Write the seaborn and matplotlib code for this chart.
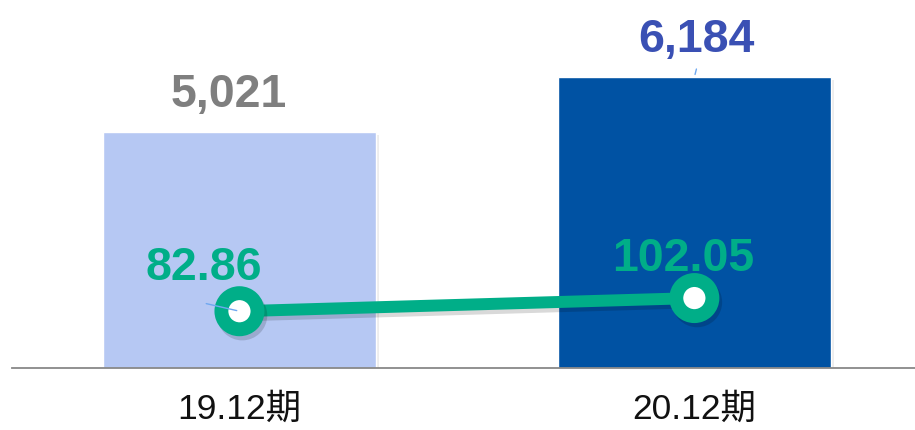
import matplotlib
matplotlib.use("Agg")
import matplotlib.pyplot as plt
import matplotlib.patheffects as pe
import seaborn as sns
import pandas as pd

categories = ["19.12期", "20.12期"]
bar_values = [5021, 6184]
line_values = [82.86, 102.05]
bar_labels = ["5,021", "6,184"]
line_labels = ["82.86", "102.05"]

bar_colors = ["#B6C8F3", "#0052A3"]
bar_label_colors = ["#7F7F7F", "#3A50B4"]
green = "#00AE88"

sns.set_theme(style="white")
plt.rcParams["font.family"] = ["Liberation Sans", "Noto Sans CJK JP", "DejaVu Sans"]

df = pd.DataFrame({"cat": categories, "val": bar_values, "rate": line_values})

fig = plt.figure(figsize=(9.15, 4.3), dpi=100)
ax = fig.add_axes([12 / 915, 62 / 430, 903 / 915, 368 / 430])

sns.barplot(data=df, x="cat", y="val", hue="cat", palette=bar_colors,
            width=0.6, ax=ax, legend=False, saturation=1)
for p in ax.patches:
    p.set_path_effects([pe.SimplePatchShadow(offset=(2, -2), shadow_rgbFace="#000000", alpha=0.07),
                        pe.Normal()])
ax.set_xlim(-0.5, 1.485)
ax.set_ylim(0, 7824)
ax.set_xlabel("")
ax.set_ylabel("")
ax.set_yticks([])
for s in ["top", "right", "left"]:
    ax.spines[s].set_visible(False)
ax.spines["bottom"].set_color("#888888")
ax.spines["bottom"].set_linewidth(1.3)
ax.tick_params(axis="x", length=0, pad=18, labelsize=25.5, colors="#111111")

for i, (v, lab, c) in enumerate(zip(bar_values, bar_labels, bar_label_colors)):
    dx = -8 if i == 0 else 1.5
    ax.annotate(lab, xy=(i, v), xytext=(dx, 26.5), textcoords="offset points",
                ha="center", va="center", fontsize=33.5, fontweight="bold", color=c)

# leader line for 6,184
ax.annotate("", xy=(1, bar_values[1]), xytext=(1.006, bar_values[1] + 230),
            arrowprops=dict(arrowstyle="-", color="#6FA8F0", lw=1.0))

ax2 = ax.twinx()
ax2.set_ylim(0, 537)
sns.lineplot(x=[0, 1], y=line_values, ax=ax2, color=green, lw=8.6,
             marker="o", markersize=26, markeredgewidth=10,
             markerfacecolor="white", markeredgecolor=green, zorder=5)
for ln in ax2.lines:
    ln.set_path_effects([pe.SimpleLineShadow(offset=(2, -3), shadow_color="#000000", alpha=0.15),
                         pe.Normal()])
ax2.set_yticks([])
ax2.set_ylabel("")
for s in ["top", "right", "left", "bottom"]:
    ax2.spines[s].set_visible(False)

offsets = [(-26, 31), (-8, 28)]
for i, (v, lab) in enumerate(zip(line_values, line_labels)):
    ox, oy = offsets[i]
    ax2.annotate(lab, xy=(i, v), xytext=(ox, oy), textcoords="offset points",
                 ha="center", va="center", fontsize=33.5, fontweight="bold", color=green,
                 zorder=6)

ax2.annotate("", xy=(0, line_values[0]), xytext=(-0.079, line_values[0] + 12),
             arrowprops=dict(arrowstyle="-", color="#6FA8F0", lw=1.0), zorder=7)

fig.savefig("out.png", dpi=100)
